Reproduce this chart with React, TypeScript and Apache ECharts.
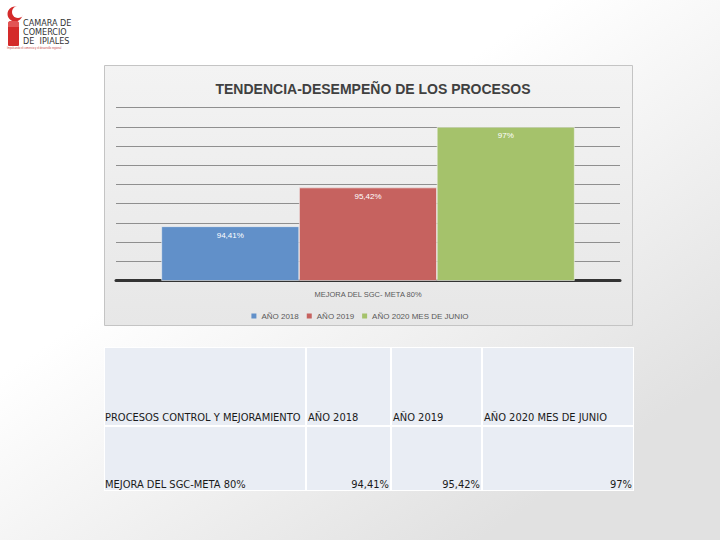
import React, { useEffect, useRef } from "react";
import * as echarts from "echarts";

const categories = ["MEJORA DEL SGC- META 80%"];
const seriesNames = ["AÑO 2018", "AÑO 2019", "AÑO 2020 MES DE JUNIO"];
const seriesValues = [94.41, 95.42, 97];
const seriesColors = ["#6190c9", "#c6625f", "#a5c26b"];
const tableHeader = ["PROCESOS CONTROL Y MEJORAMIENTO", "AÑO 2018", "AÑO 2019", "AÑO 2020 MES DE JUNIO"];
const tableRowLabel = "MEJORA DEL SGC-META 80%";
const yMin = 93;
const yMax = 97.5;
const yInterval = 0.5;

const fmt = (v: number) => String(v).replace(".", ",") + "%";

export default function App() {
  const ref = useRef<HTMLDivElement>(null);
  useEffect(() => {
    if (!ref.current) return;
    const chart = echarts.init(ref.current, null, { renderer: "svg" });
    const font = "Liberation Sans, Arial, sans-serif";
    const narrow = "'Liberation Sans Narrow', 'DejaVu Sans Condensed', 'Liberation Sans', sans-serif";

    const colX = [105, 307, 392, 483];
    const colW = [200, 83, 89, 150];
    const rowY = [348, 427];
    const rowH = [77, 63];
    const tableEls: any[] = [];
    tableEls.push({
      type: "rect",
      z: 4,
      shape: { x: 104, y: 347, width: 530, height: 144 },
      style: { fill: "#ffffff" },
    });
    for (let r = 0; r < 2; r++) {
      for (let c = 0; c < 4; c++) {
        tableEls.push({
          type: "rect",
          z: 5,
          shape: { x: colX[c], y: rowY[r], width: colW[c], height: rowH[r] },
          style: { fill: "#e9edf4" },
        });
      }
    }
    tableHeader.forEach((t, c) => {
      tableEls.push({
        type: "text",
        z: 6,
        x: colX[c] + (c === 0 ? 0 : 1),
        y: 417,
        style: { text: t, fill: "#1a1a1a", font: `11px ${narrow}`, textVerticalAlign: "middle" },
      });
    });
    tableEls.push({
      type: "text",
      z: 6,
      x: colX[0],
      y: 484,
      style: { text: tableRowLabel, fill: "#1a1a1a", font: `11px ${narrow}`, textVerticalAlign: "middle" },
    });
    seriesValues.forEach((v, i) => {
      const c = i + 1;
      tableEls.push({
        type: "text",
        z: 6,
        x: colX[c] + colW[c] - 1,
        y: 484,
        style: { text: fmt(v), fill: "#1a1a1a", font: `11px ${narrow}`, textAlign: "right", textVerticalAlign: "middle" },
      });
    });

    chart.setOption({
      animation: false,
      backgroundColor: {
        type: "linear",
        x: 0.55,
        y: 0.2,
        x2: 1,
        y2: 0.7,
        colorStops: [
          { offset: 0, color: "#ffffff" },
          { offset: 1, color: "#e1e1e1" },
        ],
      },
      title: {
        text: "TENDENCIA-DESEMPEÑO DE LOS PROCESOS",
        left: 368,
        top: 77,
        textAlign: "center",
        textStyle: { fontFamily: font, fontSize: 14, fontWeight: "bold", color: "#404040" },
      },
      graphic: [
        {
          type: "rect",
          z: -10,
          shape: { x: 104.5, y: 65.5, width: 528, height: 260 },
          style: {
            fill: {
              type: "linear",
              x: 0, y: 0, x2: 0, y2: 1,
              colorStops: [
                { offset: 0, color: "#f3f3f3" },
                { offset: 1, color: "#e7e7e7" },
              ],
            },
            stroke: "#c4c4c4",
            lineWidth: 1,
          },
        },
        // logo
        { type: "circle", z: 5, shape: { cx: 15, cy: 14, r: 7.5 }, style: { fill: "#d42a2a" } },
        { type: "circle", z: 5, shape: { cx: 18, cy: 12, r: 6 }, style: { fill: "#ffffff" } },
        { type: "rect", z: 5, shape: { x: 8, y: 21, width: 11, height: 25, r: [3, 3, 1, 1] }, style: { fill: "#d42a2a" } },
        { type: "rect", z: 5, shape: { x: 8, y: 21, width: 11, height: 6, r: [3, 3, 0, 0] }, style: { fill: "#e25555" } },
        { type: "text", z: 5, x: 23, y: 23, style: { text: "CAMARA DE", fill: "#333333", font: `9px ${narrow}`, textVerticalAlign: "middle" } },
        { type: "text", z: 5, x: 23, y: 32, style: { text: "COMERCIO", fill: "#333333", font: `9px ${narrow}`, textVerticalAlign: "middle" } },
        { type: "text", z: 5, x: 23, y: 41, style: { text: "DE  IPIALES", fill: "#333333", font: `9px ${narrow}`, textVerticalAlign: "middle" } },
        { type: "text", z: 5, x: 7, y: 48, style: { text: "Impulsando el comercio y el desarrollo regional", fill: "#c84444", font: `2.6px ${font}`, textVerticalAlign: "middle" } },
        ...tableEls,
      ],
      legend: {
        top: 307,
        left: "center",
        itemWidth: 5,
        itemHeight: 5,
        itemGap: 8,
        icon: "rect",
        itemStyle: { borderWidth: 0 },
        textStyle: { fontFamily: font, fontSize: 8, color: "#595959" },
        data: seriesNames.map((n) => ({ name: n, icon: "rect" })),
      },
      grid: { left: 116, right: 100, top: 107.7, bottom: 259.5, containLabel: false },
      xAxis: {
        type: "category",
        data: categories,
        axisLine: { show: true, lineStyle: { color: "#333333", width: 3 } },
        axisTick: { show: false },
        axisLabel: { fontFamily: font, fontSize: 7.5, color: "#595959", margin: 10 },
      },
      yAxis: {
        type: "value",
        min: yMin,
        max: yMax,
        interval: yInterval,
        axisLine: { show: false },
        axisTick: { show: false },
        axisLabel: { show: false },
        splitLine: { show: true, lineStyle: { color: "#8f8f8f", width: 1 } },
      },
      series: seriesNames.map((name, i) => ({
        name,
        type: "bar",
        data: [seriesValues[i]],
        barGap: "0%",
        barCategoryGap: "18%",
        itemStyle: { color: seriesColors[i], borderColor: "#f4f4f4", borderWidth: 0.6 },
        label: {
          show: true,
          position: "insideTop",
          distance: 5,
          color: "#ffffff",
          fontFamily: font,
          fontSize: 8,
          formatter: (p: any) => fmt(p.value),
        },
      })),
    });
    return () => chart.dispose();
  }, []);
  return <div ref={ref} style={{ position: "absolute", left: 0, top: 0, width: 720, height: 540 }} />;
}
